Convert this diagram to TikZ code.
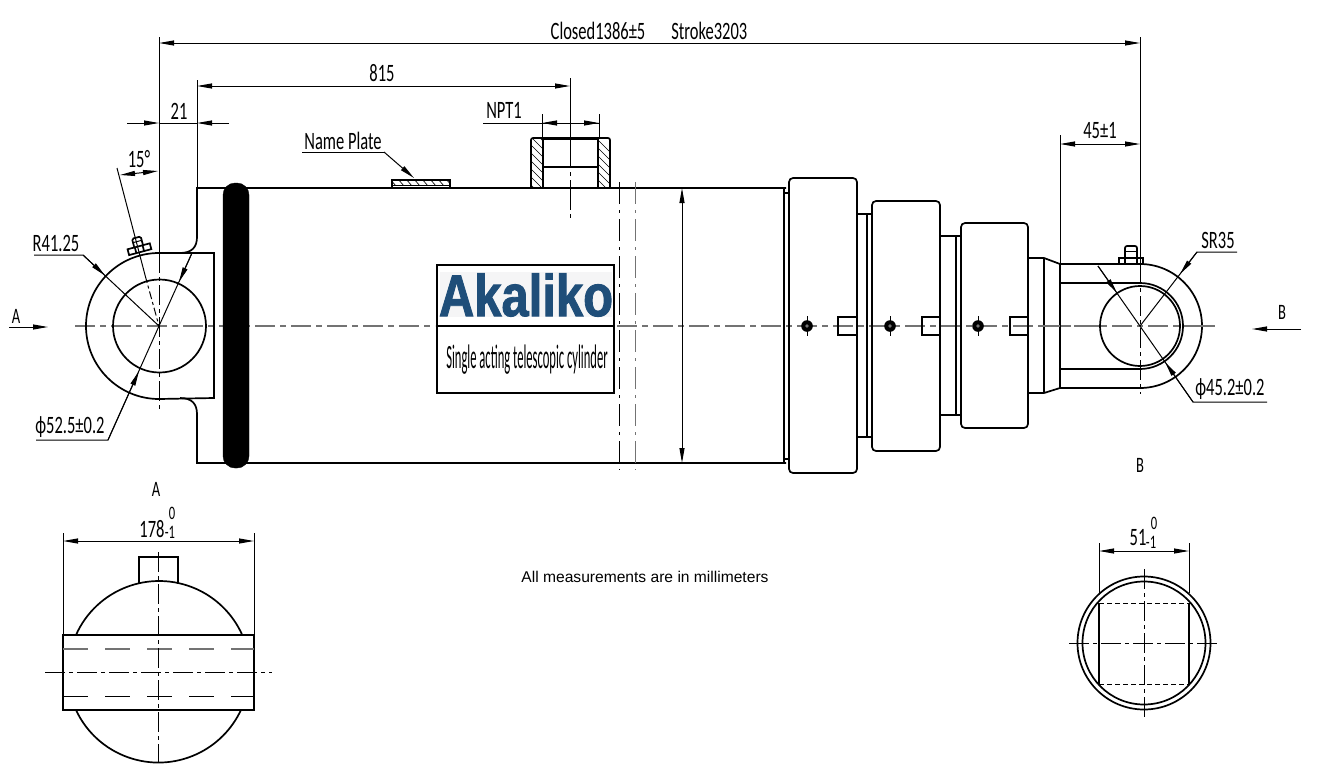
\documentclass[tikz,border=0pt]{standalone}
\usepackage{fontspec}
\setmainfont{Liberation Sans}
\newfontfamily\dimfont[FakeStretch=0.66]{Carlito}
\newfontfamily\capfont[FakeStretch=0.37]{Carlito}
\newfontfamily\logofont[FakeStretch=0.83,BoldFeatures={FakeBold=1.5}]{Liberation Sans}
\usetikzlibrary{arrows.meta}
\newlength{\du}
\setlength{\du}{1pt}
\definecolor{logoblue}{rgb}{0.122000, 0.306000, 0.475000}
\definecolor{logoback}{rgb}{0.960000, 0.960000, 0.965000}
\definecolor{axisgrey}{rgb}{0.450000, 0.450000, 0.450000}
\tikzset{
  thickline/.style={draw=black,line width=1.7\du,line join=miter},
  thinline/.style={draw=black,line width=1\du},
  axisline/.style={draw=axisgrey,line width=1.1\du,dash pattern=on 20\du off 5\du on 6\du off 5\du},
  blackaxis/.style={draw=black,line width=1\du,dash pattern=on 20\du off 4\du on 4\du off 4\du},
  hiddenline/.style={draw=black,line width=1\du,dash pattern=on 22\du off 6\du on 3\du off 6\du},
  shortdash/.style={draw=black,line width=1\du,dash pattern=on 5\du off 3\du},
  dimline/.style={thinline,{Stealth[length=15pt,width=5pt,inset=0pt]}-{Stealth[length=15pt,width=5pt,inset=0pt]}},
  leaderline/.style={thinline,-{Stealth[length=15pt,width=5pt,inset=0pt]}},
  dimtext/.style={inner sep=0\du,font=\dimfont\fontsize{25}{25}\selectfont},
  smalltext/.style={inner sep=0\du,font=\dimfont\fontsize{19}{19}\selectfont},
  viewtext/.style={inner sep=0\du,font=\dimfont\fontsize{22}{22}\selectfont},
  hatchline/.style={draw=black,line width=0.7\du},
}

\begin{document}
\begin{tikzpicture}
\pgftransformxscale{1.000000}
\pgftransformyscale{-1.000000}
\useasboundingbox (0\du,0\du) rectangle (1320\du,782\du);
% axis of the whole cylinder
\draw[axisline] (75\du,326\du)--(435\du,326\du);
\draw[axisline] (617\du,326\du)--(1216\du,326\du);
% cylinder tube
\draw[thickline] (786\du,188\du)--(197\du,188\du)--(197\du,237\du) .. controls (197\du,247\du) and (192\du,253\du) .. (180\du,253\du);
\draw[thickline] (180\du,398\du) .. controls (192\du,398\du) and (197\du,404\du) .. (197\du,414\du)--(197\du,463\du)--(786\du,463\du);
\draw[thickline] (784\du,188\du)--(784\du,463\du);
\draw[thickline] (784\du,193\du)--(789\du,193\du);
\draw[thickline] (784\du,459\du)--(789\du,459\du);
\draw[fill=black,rounded corners=12\du] (223\du,183\du) rectangle (249\du,468\du);
% clevis at the left
\draw[thickline] (214\du,253\du)--(159\du,253\du) arc[start angle=-90,end angle=-270,radius=73\du]--(214\du,398\du)--cycle;
\draw[thickline] (159.5\du,326\du) circle[radius=46.5\du];
\draw[blackaxis] (159\du,253\du)--(159\du,412\du);
\draw[thinline] (159\du,37\du)--(159\du,253\du);
\begin{scope}[shift={(141\du,255\du)},rotate=-15]
\draw[thickline,fill=white] (-11.5\du,-3\du) rectangle (11.5\du,-9\du);
\draw[thickline] (-4\du,-3\du)--(-4\du,-9\du);
\draw[thickline] (4\du,-3\du)--(4\du,-9\du);
\draw[thickline,rounded corners=1.5\du] (-4.5\du,-9\du)--(-4.5\du,-18\du)--(4.5\du,-18\du)--(4.5\du,-9\du);
\draw[thinline] (-4.5\du,-14\du)--(4.5\du,-14\du);
\end{scope}
\draw[thinline] (117\du,168\du)--(145\du,275\du);
\draw[blackaxis,dash pattern=on 8\du off 3\du on 3\du off 3\du] (145\du,275\du)--(159\du,326\du);
% glands
\draw[thickline,rounded corners=4\du] (789\du,178\du) rectangle (857\du,473\du);
\draw[thickline] (857\du,214\du)--(872\du,214\du);
\draw[thickline] (857\du,437\du)--(872\du,437\du);
\draw[thickline] (867\du,214\du)--(867\du,437\du);
\draw[thickline,rounded corners=4\du] (872\du,201\du) rectangle (940\du,451\du);
\draw[thickline] (940\du,236\du)--(961\du,236\du);
\draw[thickline] (940\du,415\du)--(961\du,415\du);
\draw[thickline] (956\du,236\du)--(956\du,415\du);
\draw[thickline,rounded corners=4\du] (961\du,223\du) rectangle (1028\du,428\du);
\draw[thickline] (838\du,317\du) rectangle (857\du,335\du);
\draw[thickline] (922\du,317\du) rectangle (940\du,335\du);
\draw[thickline] (1010\du,317\du) rectangle (1028\du,335\du);
\foreach \px in {807,890,978}{
  \draw[thinline] (\px\du,316\du)--(\px\du,336\du);
  \fill[black] (\px\du,326\du) circle[radius=5.8\du];
  \fill[axisgrey] (\px\du,326\du) circle[radius=1.8\du];
}
% rod eye at the right
\draw[thickline] (1028\du,258\du)--(1044\du,258\du)--(1060\du,264\du);
\draw[thickline] (1028\du,393\du)--(1044\du,393\du)--(1060\du,388\du);
\draw[thickline] (1044\du,258\du)--(1044\du,393\du);
\draw[thickline] (1060\du,388\du)--(1060\du,264\du)--(1140\du,264\du) arc[start angle=-90,end angle=90,radius=62\du]--cycle;
\draw[thickline] (1060\du,283\du)--(1140\du,283\du) arc[start angle=-90,end angle=90,radius=43\du]--(1060\du,369\du);
\draw[thickline,fill=white] (1140\du,326\du) circle[radius=40\du];
\draw[axisline] (1040\du,326\du)--(1216\du,326\du);
\draw[thickline] (1119\du,258\du) rectangle (1143\du,264\du);
\draw[thickline] (1125\du,258\du)--(1125\du,264\du);
\draw[thickline] (1137\du,258\du)--(1137\du,264\du);
\draw[thickline,rounded corners=2\du] (1125\du,258\du)--(1125\du,246\du)--(1137\du,246\du)--(1137\du,258\du);
\draw[thinline] (1125\du,251\du)--(1137\du,251\du);
\draw[blackaxis] (1140\du,264\du)--(1140\du,394\du);
\draw[thinline] (1140\du,37\du)--(1140\du,264\du);
% name plate
\begin{scope}
\clip (392\du,180\du) rectangle (450\du,185\du);
\foreach \hx in {390,398,...,454}{
  \draw[hatchline] (\hx\du,179\du)--(\hx\du+6\du,186\du);
}
\end{scope}
\draw[thickline] (392\du,180\du) rectangle (450\du,188\du);
\draw[thickline,line width=1\du] (392\du,185\du)--(450\du,185\du);
% port
\begin{scope}
\clip (531\du,138\du) rectangle (543\du,188\du) (598\du,138\du) rectangle (610\du,188\du);
\foreach \hy in {70,78,...,190}{
  \draw[hatchline] (528\du,\hy\du)--(613\du,\hy\du+85\du);
}
\end{scope}
\draw[thickline,rounded corners=2\du] (531\du,188\du)--(531\du,138\du)--(610\du,138\du)--(610\du,188\du);
\draw[thickline] (543\du,139\du)--(543\du,188\du);
\draw[thickline] (598\du,139\du)--(598\du,188\du);
\draw[thickline,line width=2.6\du] (543\du,139\du)--(598\du,139\du);
\draw[thickline] (543\du,167\du)--(598\du,167\du);
\draw[thinline] (570\du,78\du)--(570\du,138\du);
\draw[blackaxis,dash pattern=on 30\du off 4\du on 4\du off 4\du] (570\du,138\du)--(570\du,220\du);
\draw[thinline] (542\du,114\du)--(542\du,138\du);
\draw[thinline] (599\du,114\du)--(599\du,138\du);
% broken line of the tube and its diameter
\draw[hiddenline] (619\du,182\du)--(619\du,470\du);
\draw[hiddenline,draw=axisgrey] (635\du,182\du)--(635\du,470\du);
\draw[dimline] (682\du,188\du)--(682\du,463\du);
% logo plate
\draw[thickline,fill=white] (437\du,265\du) rectangle (614\du,393\du);
\draw[thickline] (437\du,326\du)--(614\du,326\du);
\fill[logoback] (440\du,272\du) rectangle (612\du,317\du);
\node[inner sep=0\du,text=logoblue,font=\logofont\bfseries\fontsize{59}{59}\selectfont] (logotext) at (526\du,295\du){Akaliko};
\node[inner sep=0\du,font=\capfont\fontsize{34}{34}\selectfont] (logocaption) at (527\du,360\du){Single acting telescopic cylinder};
% dimensions
\draw[dimline] (159\du,43\du)--(1140\du,43\du);
\node[dimtext] (closedtext) at (649\du,31\du){Closed1386±5\hspace{26\du}Stroke3203};
\draw[thinline] (197\du,80\du)--(197\du,188\du);
\draw[dimline] (197\du,86\du)--(570\du,86\du);
\node[dimtext] (lengthtext) at (382\du,73\du){815};
\draw[thinline] (159\du,123\du)--(197\du,123\du);
\draw[leaderline] (127\du,123\du)--(159\du,123\du);
\draw[leaderline] (229\du,123\du)--(197\du,123\du);
\node[dimtext] (offsettext) at (179\du,111\du){21};
\draw[dimline] (120\du,175\du)--(158\du,171\du);
\node[dimtext] (angletext) at (139\du,159\du){15°};
\draw[thinline] (34\du,255\du)--(83\du,255\du)--(159\du,326\du);
\draw[leaderline] (83\du,255\du)--(105\du,275.5\du);
\node[dimtext] (radiustext) at (56\du,243\du){R41.25};
\draw[thinline] (36\du,440\du)--(108\du,440\du)--(159\du,326\du)--(192\du,253\du);
\draw[leaderline] (108\du,440\du)--(139\du,371\du);
\draw[leaderline] (192\du,253\du)--(179\du,282\du);
\node[dimtext] (boretext) at (70\du,427\du){ϕ52.5±0.2};
\draw[leaderline] (9\du,327\du)--(48\du,327\du);
\node[viewtext] (viewa) at (16\du,316\du){A};
\draw[leaderline] (1301\du,329\du)--(1252\du,329\du);
\node[viewtext] (viewb) at (1282\du,312\du){B};
\draw[thinline] (302\du,152\du)--(384\du,152\du);
\draw[leaderline] (384\du,152\du)--(414\du,178\du);
\node[dimtext] (platetext) at (343\du,141\du){Name Plate};
\draw[thinline] (483\du,123\du)--(599\du,123\du);
\draw[leaderline] (570\du,123\du)--(542\du,123\du);
\draw[leaderline] (570\du,123\du)--(599\du,123\du);
\node[dimtext] (porttext) at (504\du,110\du){NPT1};
\draw[thinline] (1060\du,135\du)--(1060\du,264\du);
\draw[dimline] (1060\du,144\du)--(1140\du,144\du);
\node[dimtext] (eyetext) at (1100\du,131\du){45±1};
\draw[thinline] (1237\du,252\du)--(1197\du,252\du)--(1140\du,326\du);
\draw[leaderline] (1197\du,252\du)--(1180\du,274\du);
\node[dimtext] (spheretext) at (1218\du,240\du){SR35};
\draw[thinline] (1267\du,402\du)--(1193\du,402\du)--(1098\du,266\du);
\draw[leaderline] (1193\du,402\du)--(1165\du,362\du);
\draw[leaderline] (1098\du,266\du)--(1117\du,293\du);
\node[dimtext] (eyebore) at (1230\du,389\du){ϕ45.2±0.2};
\node[viewtext] (titlea) at (156\du,489\du){A};
\node[viewtext] (titleb) at (1140\du,465\du){B};
\node[inner sep=0\du,font=\fontsize{15.6}{15.6}\selectfont] (notetext) at (645\du,577\du){All measurements are in millimeters};
% view A
\draw[thickline] (76\du,635\du) arc[start angle=-156,end angle=-24,radius=91\du];
\draw[thickline] (76\du,710\du) arc[start angle=155,end angle=25,radius=91\du];
\draw[thickline] (139\du,584\du)--(139\du,557\du)--(178\du,557\du)--(178\du,584\du);
\draw[thickline] (63\du,635\du) rectangle (254\du,710\du);
\draw[draw=axisgrey,line width=1.1\du,dash pattern=on 25\du off 17\du] (63\du,649\du)--(254\du,649\du);
\draw[draw=black,line width=1\du,dash pattern=on 25\du off 17\du] (63\du,696\du)--(254\du,696\du);
\draw[blackaxis] (45\du,672\du)--(272\du,672\du);
\draw[blackaxis] (158\du,552\du)--(158\du,763\du);
\draw[thinline] (63\du,533\du)--(63\du,635\du);
\draw[thinline] (254\du,533\du)--(254\du,635\du);
\draw[dimline] (63\du,541\du)--(254\du,541\du);
\node[dimtext] (widthtext) at (152\du,529\du){178};
\node[smalltext] (widthlow) at (170\du,532\du){-1};
\node[smalltext] (widthup) at (172\du,513\du){0};
% view B
\draw[thickline] (1144\du,643\du) circle[radius=66.5\du];
\draw[thickline] (1144\du,643\du) circle[radius=61.5\du];
\draw[thickline] (1099\du,603\du)--(1099\du,684\du);
\draw[thickline] (1189\du,603\du)--(1189\du,684\du);
\draw[shortdash] (1099\du,603\du)--(1189\du,603\du);
\draw[shortdash] (1099\du,684\du)--(1189\du,684\du);
\draw[blackaxis] (1069\du,643\du)--(1219\du,643\du);
\draw[blackaxis] (1144\du,569\du)--(1144\du,718\du);
\draw[thinline] (1099\du,543\du)--(1099\du,593\du);
\draw[thinline] (1189\du,543\du)--(1189\du,593\du);
\draw[dimline] (1099\du,551\du)--(1189\du,551\du);
\node[dimtext] (flattext) at (1138\du,538\du){51};
\node[smalltext] (flatlow) at (1151\du,542\du){-1};
\node[smalltext] (flatup) at (1154\du,523\du){0};
\end{tikzpicture}
\end{document}
